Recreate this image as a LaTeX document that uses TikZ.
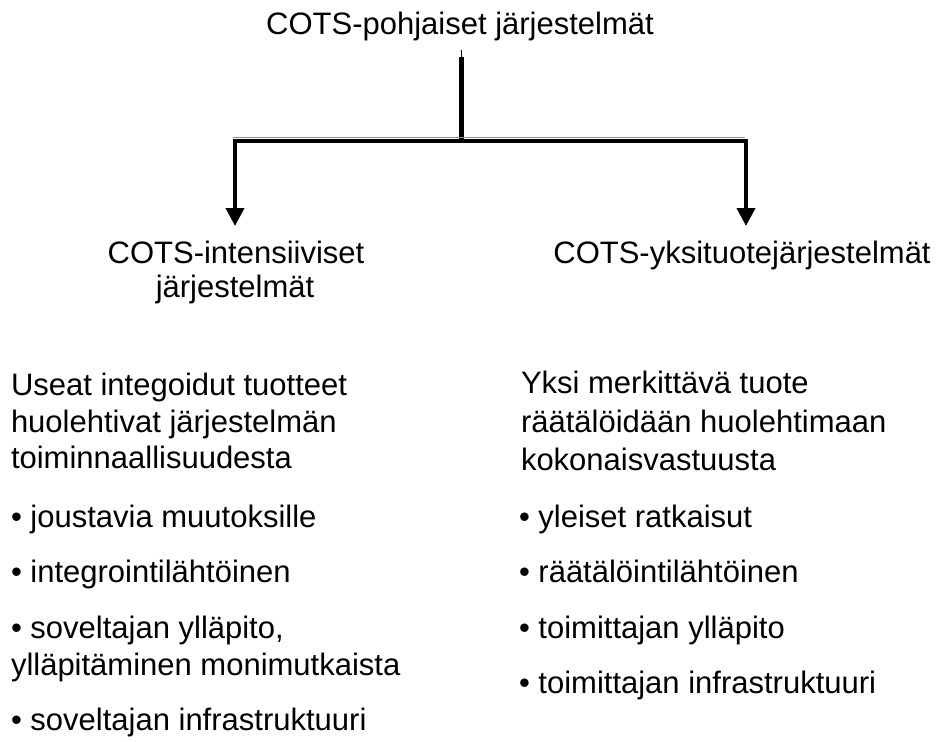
\documentclass[tikz,border=0pt]{standalone}
\usepackage{fontspec}
\setmainfont{Liberation Sans}
\usetikzlibrary{arrows.meta,calc}

\tikzset{
  txt/.style={inner sep=0pt, outer sep=0pt, font=\fontsize{31bp}{37bp}\selectfont},
  line/.style={txt, anchor=base west},
  head/.style={txt, anchor=base},
  stem/.style={line width=5bp, line cap=butt},
  branch/.style={line width=4bp, line join=miter,
    {Triangle[length=18bp,width=18bp]}-{Triangle[length=18bp,width=18bp]}},
  rim/.style={draw=black!45, line width=1bp}
}

\begin{document}
\begin{tikzpicture}[x=1bp, y=-1bp]
  \useasboundingbox (0,0) rectangle (939,742);

  % headings
  \node[head] (title) at (460,35) {COTS-pohjaiset järjestelmät};
  \node[head] (lhead) at (236,263) {COTS-intensiiviset};
  \node[head] (lhead2) at (235,297) {järjestelmät};
  \node[head] (rhead) at (742,263) {COTS-yksituotejärjestelmät};

  % branch points
  \coordinate (stemtop) at (461,50);
  \coordinate (stemthick) at (461,57);
  \coordinate (hub) at (461,141);
  \coordinate (ltip) at (235,226);
  \coordinate (rtip) at (746,226);

  % tree connector
  \draw[line width=1bp] (stemtop) -- (stemthick);
  \draw[stem] (stemthick) -- ($(hub)+(0,2)$);
  \draw[branch] (ltip) |- (hub) -| (rtip);
  \draw[rim] ($(ltip|-hub)+(-2,-3.5)$) -- ($(rtip|-hub)+(-1,-3.5)$);

  % left column
  \node[line] (l1) at (11,395) {Useat integoidut tuotteet};
  \node[line] (l2) at (11,432) {huolehtivat järjestelmän};
  \node[line] (l3) at (11,468) {toiminnaallisuudesta};
  \node[line] (l4) at (11,527) {• joustavia muutoksille};
  \node[line] (l5) at (11,582) {• integrointilähtöinen};
  \node[line] (l6) at (11,638) {• soveltajan ylläpito,};
  \node[line] (l7) at (11,675) {ylläpitäminen monimutkaista};
  \node[line] (l8) at (11,730) {• soveltajan infrastruktuuri};

  % right column
  \node[line] (r1) at (521,393) {Yksi merkittävä tuote};
  \node[line] (r2) at (521,432) {räätälöidään huolehtimaan};
  \node[line] (r3) at (521,470) {kokonaisvastuusta};
  \node[line] (r4) at (519,527) {• yleiset ratkaisut};
  \node[line] (r5) at (519,582) {• räätälöintilähtöinen};
  \node[line] (r6) at (519,638) {• toimittajan ylläpito};
  \node[line] (r7) at (519,693) {• toimittajan infrastruktuuri};
\end{tikzpicture}
\end{document}
